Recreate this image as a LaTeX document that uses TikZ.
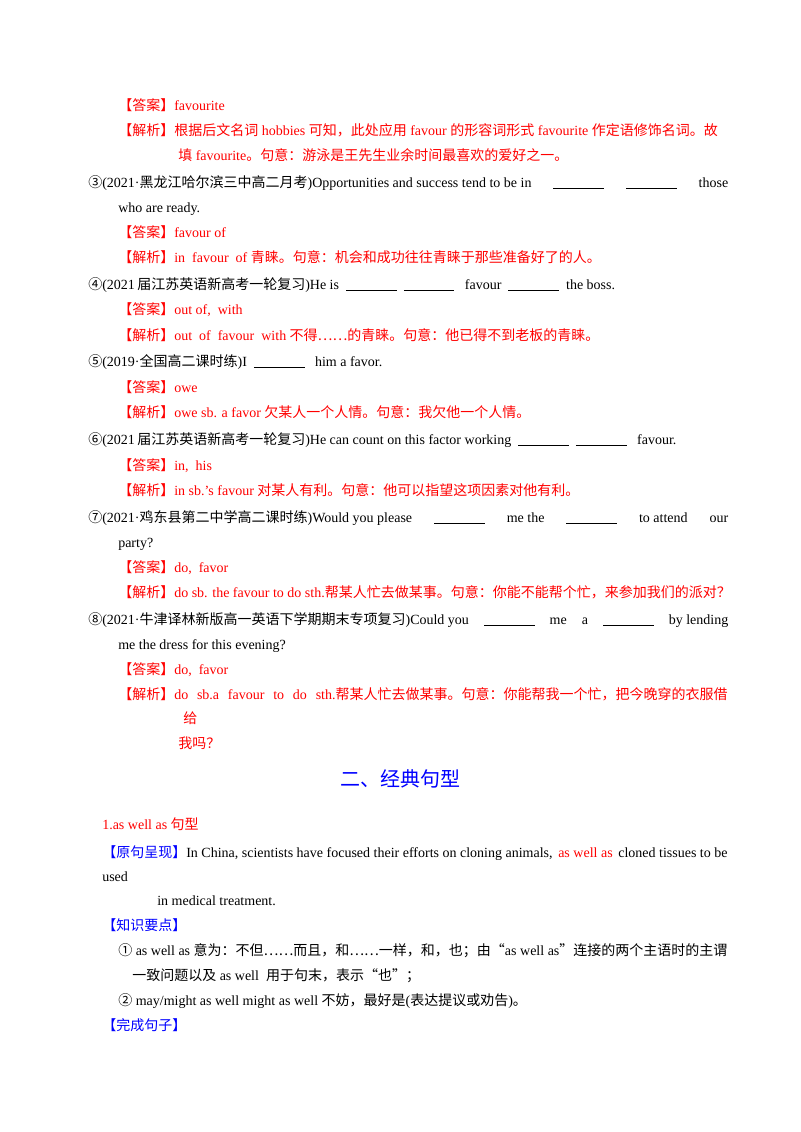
\documentclass[tikz,border=0pt]{standalone}
\usepackage{fontspec}
\setmainfont{Liberation Serif}
\newfontfamily\cjk{Noto Sans CJK SC}
\newcommand\C[1]{{\cjk #1}}
\newcommand\bl{\rule[-1pt]{38pt}{0.4pt}}
\definecolor{ansred}{HTML}{FF0000}
\definecolor{hdblue}{HTML}{0000FF}
\begin{document}
\begin{tikzpicture}[x=0.75pt,y=-0.75pt,
  txt/.style={anchor=base west,inner sep=0,font=\fontsize{10.5}{12}\selectfont},
  red/.style={txt,text=ansred}]
\useasboundingbox (0,0) rectangle (800,1132);
\fill[white] (0,0) rectangle (800,1132);
\node[red] (l1) at (118,110) {\C{【答案】}favourite};
\node[red] (l2) at (118,135) {\C{【解析】根据后文名词} hobbies \C{可知，此处应用} favour \C{的形容词形式} favourite \C{作定语修饰名词。故}};
\node[red] (l3) at (178,160) {\C{填} favourite\C{。句意：游泳是王先生业余时间最喜欢的爱好之一。}};
\node[txt] (l4) at (88,187) {\hbox to 480pt{\C{③}(2021·\C{黑龙江哈尔滨三中高二月考})Opportunities and success tend to be in\hfill\bl\hfill\bl\hfill those}};
\node[txt] (l5) at (118,212) {who are ready.};
\node[red] (l6) at (118,237) {\C{【答案】}favour of};
\node[red] (l7) at (118,262) {\C{【解析】}in\ \ favour\ \ of \C{青睐。句意：机会和成功往往青睐于那些准备好了的人。}};
\node[txt] (l8) at (88,289) {\C{④}(2021\,\C{届江苏英语新高考一轮复习})He is \ \bl\ \ \bl\ \ \ favour \ \bl\ \ the boss.};
\node[red] (l9) at (118,314) {\C{【答案】}out of,\ \ with};
\node[red] (l10) at (118,340) {\C{【解析】}out\ \ of\ \ favour\ \ with \C{不得……的青睐。句意：他已得不到老板的青睐。}};
\node[txt] (l11) at (88,366) {\C{⑤}(2019·\C{全国高二课时练})I \ \bl\ \ \ him a favor.};
\node[red] (l12) at (118,392) {\C{【答案】}owe};
\node[red] (l13) at (118,417) {\C{【解析】}owe sb. a favor \C{欠某人一个人情。句意：我欠他一个人情。}};
\node[txt] (l14) at (88,444) {\C{⑥}(2021\,\C{届江苏英语新高考一轮复习})He can count on this factor working \ \bl\ \ \bl\ \ \ favour.};
\node[red] (l15) at (118,470) {\C{【答案】}in,\ \ his};
\node[red] (l16) at (118,495) {\C{【解析】}in sb.'s favour \C{对某人有利。句意：他可以指望这项因素对他有利。}};
\node[txt] (l17) at (88,522) {\hbox to 480pt{\C{⑦}(2021·\C{鸡东县第二中学高二课时练})Would you please\hfill\bl\hfill me the\hfill\bl\hfill to attend\hfill our}};
\node[txt] (l18) at (118,547) {party?};
\node[red] (l19) at (118,572) {\C{【答案】}do,\ \ favor};
\node[red] (l20) at (118,597) {\C{【解析】}do sb. the favour to do sth.\C{帮某人忙去做某事。句意：你能不能帮个忙，来参加我们的派对？}};
\node[txt] (l21) at (88,624) {\hbox to 480pt{\C{⑧}(2021·\C{牛津译林新版高一英语下学期期末专项复习})Could you\hfill\bl\hfill me\hfill a\hfill\bl\hfill by lending}};
\node[txt] (l22) at (118,649) {me the dress for this evening?};
\node[red] (l23) at (118,674) {\C{【答案】}do,\ \ favor};
\node[red] (l24) at (118,699) {\hbox to 457pt{\C{【解析】}do\hfill sb.a\hfill favour\hfill to\hfill do\hfill sth.\C{帮某人忙去做某事。句意：你能帮我一个忙，把今晚穿的衣服借}}};
\node[red] (l25) at (183,723) {\C{给}};
\node[red] (l26) at (178,748) {\C{我吗？}};
\node[anchor=base,inner sep=0,text=hdblue,font=\cjk\fontsize{15}{18}\selectfont] (l27) at (400,786) {二、经典句型};
\node[red] (l28) at (102,829) {1.as well as \C{句型}};
\node[txt] (l29) at (102,857) {\hbox to 469pt{\textcolor{hdblue}{\C{【原句呈现】}}In China, scientists have focused their efforts on cloning animals,\hfill\textcolor{ansred}{as well as}\hfill cloned tissues to be}};
\node[txt] (l30) at (102,881) {used};
\node[txt] (l31) at (157,905) {in medical treatment.};
\node[txt,text=hdblue] (l32) at (102,930) {\C{【知识要点】}};
\node[txt] (l33) at (118,955) {\C{①} as well as \C{意为：不但……而且，和……一样，和，也；由“}as well as\C{”连接的两个主语时的主谓}};
\node[txt] (l34) at (132,980) {\C{一致问题以及} as well \ \C{用于句末，表示“也”；}};
\node[txt] (l35) at (118,1005) {\C{②} may/might as well might as well \C{不妨，最好是}(\C{表达提议或劝告})\C{。}};
\node[txt,text=hdblue] (l36) at (102,1030) {\C{【完成句子】}};
\end{tikzpicture}
\end{document}
